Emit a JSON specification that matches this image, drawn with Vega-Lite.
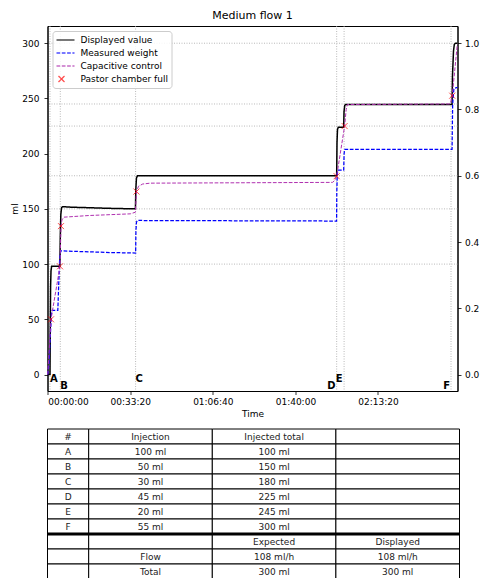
{
  "$schema": "https://vega.github.io/schema/vega-lite/v6.json",
  "padding": {"left": 9.5, "top": 9, "right": 0, "bottom": 0},
  "background": "white",
  "config": {
    "font": "DejaVu Sans",
    "view": {"stroke": "#000", "strokeWidth": 1},
    "axis": {
      "labelFont": "DejaVu Sans", "labelFontSize": 9, "labelColor": "#000",
      "titleFont": "DejaVu Sans", "titleFontSize": 9, "titleFontWeight": "normal", "titleColor": "#000",
      "tickColor": "#000", "domainColor": "#000", "tickSize": 3.5, "tickWidth": 0.8, "domainWidth": 1, "grid": false
    },
    "legend": {
      "labelFont": "DejaVu Sans", "labelFontSize": 9, "labelColor": "#000"
    }
  },
  "datasets": {
    "lines": [
      {"series": "Displayed value", "t": 0, "v": 0},
      {"series": "Displayed value", "t": 55, "v": 0},
      {"series": "Displayed value", "t": 62, "v": 40},
      {"series": "Displayed value", "t": 70, "v": 80},
      {"series": "Displayed value", "t": 80, "v": 94},
      {"series": "Displayed value", "t": 95, "v": 98},
      {"series": "Displayed value", "t": 295, "v": 98},
      {"series": "Displayed value", "t": 305, "v": 125},
      {"series": "Displayed value", "t": 318, "v": 145},
      {"series": "Displayed value", "t": 335, "v": 151},
      {"series": "Displayed value", "t": 360, "v": 152},
      {"series": "Displayed value", "t": 600, "v": 151.5},
      {"series": "Displayed value", "t": 1500, "v": 150.5},
      {"series": "Displayed value", "t": 2125, "v": 150},
      {"series": "Displayed value", "t": 2135, "v": 168},
      {"series": "Displayed value", "t": 2150, "v": 178},
      {"series": "Displayed value", "t": 2175, "v": 180},
      {"series": "Displayed value", "t": 7000, "v": 180},
      {"series": "Displayed value", "t": 7008, "v": 210},
      {"series": "Displayed value", "t": 7020, "v": 222},
      {"series": "Displayed value", "t": 7040, "v": 224},
      {"series": "Displayed value", "t": 7170, "v": 224},
      {"series": "Displayed value", "t": 7178, "v": 238},
      {"series": "Displayed value", "t": 7195, "v": 243.5},
      {"series": "Displayed value", "t": 7215, "v": 244.5},
      {"series": "Displayed value", "t": 9795, "v": 244.5},
      {"series": "Displayed value", "t": 9805, "v": 270},
      {"series": "Displayed value", "t": 9830, "v": 293},
      {"series": "Displayed value", "t": 9850, "v": 299},
      {"series": "Displayed value", "t": 9880, "v": 300},
      {"series": "Displayed value", "t": 9927, "v": 300},
      {"series": "Measured weight", "t": 0, "v": 0},
      {"series": "Measured weight", "t": 30, "v": 10},
      {"series": "Measured weight", "t": 90, "v": 55},
      {"series": "Measured weight", "t": 110, "v": 58},
      {"series": "Measured weight", "t": 245, "v": 58},
      {"series": "Measured weight", "t": 265, "v": 80},
      {"series": "Measured weight", "t": 290, "v": 105},
      {"series": "Measured weight", "t": 315, "v": 112},
      {"series": "Measured weight", "t": 700, "v": 111.5},
      {"series": "Measured weight", "t": 1500, "v": 110.5},
      {"series": "Measured weight", "t": 2130, "v": 110},
      {"series": "Measured weight", "t": 2137, "v": 130},
      {"series": "Measured weight", "t": 2150, "v": 138},
      {"series": "Measured weight", "t": 2170, "v": 139.5},
      {"series": "Measured weight", "t": 5000, "v": 139.2},
      {"series": "Measured weight", "t": 6998, "v": 139},
      {"series": "Measured weight", "t": 7003, "v": 165},
      {"series": "Measured weight", "t": 7015, "v": 182},
      {"series": "Measured weight", "t": 7030, "v": 185},
      {"series": "Measured weight", "t": 7170, "v": 185},
      {"series": "Measured weight", "t": 7180, "v": 200},
      {"series": "Measured weight", "t": 7195, "v": 204},
      {"series": "Measured weight", "t": 9795, "v": 204},
      {"series": "Measured weight", "t": 9810, "v": 245},
      {"series": "Measured weight", "t": 9840, "v": 259},
      {"series": "Measured weight", "t": 9927, "v": 260},
      {"series": "Capacitive control", "t": 0, "v": 0},
      {"series": "Capacitive control", "t": 80, "v": 50},
      {"series": "Capacitive control", "t": 298, "v": 98},
      {"series": "Capacitive control", "t": 322, "v": 134.4},
      {"series": "Capacitive control", "t": 345, "v": 140},
      {"series": "Capacitive control", "t": 390, "v": 142.5},
      {"series": "Capacitive control", "t": 1000, "v": 144},
      {"series": "Capacitive control", "t": 2000, "v": 145.5},
      {"series": "Capacitive control", "t": 2125, "v": 147},
      {"series": "Capacitive control", "t": 2150, "v": 165.7},
      {"series": "Capacitive control", "t": 2200, "v": 170.5},
      {"series": "Capacitive control", "t": 2300, "v": 172.5},
      {"series": "Capacitive control", "t": 2480, "v": 173.3},
      {"series": "Capacitive control", "t": 6900, "v": 174},
      {"series": "Capacitive control", "t": 6960, "v": 176},
      {"series": "Capacitive control", "t": 7000, "v": 179.6},
      {"series": "Capacitive control", "t": 7193, "v": 225},
      {"series": "Capacitive control", "t": 7230, "v": 240},
      {"series": "Capacitive control", "t": 7260, "v": 244.5},
      {"series": "Capacitive control", "t": 9740, "v": 245},
      {"series": "Capacitive control", "t": 9765, "v": 247},
      {"series": "Capacitive control", "t": 9799, "v": 252.5},
      {"series": "Capacitive control", "t": 9920, "v": 298},
      {"series": "Capacitive control", "t": 9927, "v": 299}
    ],
    "markers": [
      {"series": "Pastor chamber full", "t": 80, "v": 50},
      {"series": "Pastor chamber full", "t": 298, "v": 98},
      {"series": "Pastor chamber full", "t": 322, "v": 134.4},
      {"series": "Pastor chamber full", "t": 2150, "v": 165.7},
      {"series": "Pastor chamber full", "t": 7000, "v": 179.6},
      {"series": "Pastor chamber full", "t": 7193, "v": 225},
      {"series": "Pastor chamber full", "t": 9799, "v": 252.5}
    ],
    "events": [
      {"label": "A", "t": 55},
      {"label": "B", "t": 305},
      {"label": "C", "t": 2129},
      {"label": "D", "t": 7000},
      {"label": "E", "t": 7180},
      {"label": "F", "t": 9770}
    ],
    "totals": [
      {"v": 100}, {"v": 150}, {"v": 180}, {"v": 225}, {"v": 245}, {"v": 300}
    ],
    "cols": [
      {"col": 0, "start": 0, "end": 1, "mid": 0.5},
      {"col": 1, "start": 1, "end": 4, "mid": 2.5},
      {"col": 2, "start": 4, "end": 7, "mid": 5.5},
      {"col": 3, "start": 7, "end": 10, "mid": 8.5}
    ],
    "cells": [
      {"row": 0, "col": 0, "text": "#"}, {"row": 0, "col": 1, "text": "Injection"}, {"row": 0, "col": 2, "text": "Injected total"}, {"row": 0, "col": 3, "text": ""},
      {"row": 1, "col": 0, "text": "A"}, {"row": 1, "col": 1, "text": "100 ml"}, {"row": 1, "col": 2, "text": "100 ml"}, {"row": 1, "col": 3, "text": ""},
      {"row": 2, "col": 0, "text": "B"}, {"row": 2, "col": 1, "text": "50 ml"}, {"row": 2, "col": 2, "text": "150 ml"}, {"row": 2, "col": 3, "text": ""},
      {"row": 3, "col": 0, "text": "C"}, {"row": 3, "col": 1, "text": "30 ml"}, {"row": 3, "col": 2, "text": "180 ml"}, {"row": 3, "col": 3, "text": ""},
      {"row": 4, "col": 0, "text": "D"}, {"row": 4, "col": 1, "text": "45 ml"}, {"row": 4, "col": 2, "text": "225 ml"}, {"row": 4, "col": 3, "text": ""},
      {"row": 5, "col": 0, "text": "E"}, {"row": 5, "col": 1, "text": "20 ml"}, {"row": 5, "col": 2, "text": "245 ml"}, {"row": 5, "col": 3, "text": ""},
      {"row": 6, "col": 0, "text": "F"}, {"row": 6, "col": 1, "text": "55 ml"}, {"row": 6, "col": 2, "text": "300 ml"}, {"row": 6, "col": 3, "text": ""},
      {"row": 7, "col": 0, "text": ""}, {"row": 7, "col": 1, "text": ""}, {"row": 7, "col": 2, "text": "Expected"}, {"row": 7, "col": 3, "text": "Displayed"},
      {"row": 8, "col": 0, "text": ""}, {"row": 8, "col": 1, "text": "Flow"}, {"row": 8, "col": 2, "text": "108 ml/h"}, {"row": 8, "col": 3, "text": "108 ml/h"},
      {"row": 9, "col": 0, "text": ""}, {"row": 9, "col": 1, "text": "Total"}, {"row": 9, "col": 2, "text": "300 ml"}, {"row": 9, "col": 3, "text": "300 ml"}
    ]
  },
  "spacing": 9,
  "vconcat": [
    {
      "width": 410,
      "height": 365,
      "title": {"text": "Medium flow 1", "font": "DejaVu Sans", "fontSize": 11, "fontWeight": "normal", "color": "#000", "offset": 5},
      "resolve": {"scale": {"y": "independent"}},
      "layer": [
        {
          "layer": [
            {
              "data": {"name": "events"},
              "mark": {"type": "rule", "color": "#a8a8a8", "strokeWidth": 0.8, "strokeDash": [1, 1.5]},
              "encoding": {
                "x": {"field": "t", "type": "quantitative", "scale": {"domain": [-5, 9927], "nice": false, "zero": false},
                  "axis": {"title": "Time", "values": [0, 2000, 4000, 6000, 8000], "labelExpr": "utcFormat(datum.value * 1000, '%H:%M:%S')", "labelPadding": 3, "titlePadding": 3}}
              }
            },
            {
              "data": {"name": "totals"},
              "mark": {"type": "rule", "color": "#a8a8a8", "strokeWidth": 0.8, "strokeDash": [1, 1.5]},
              "encoding": {
                "y": {"field": "v", "type": "quantitative", "scale": {"domain": [-14.9, 315.6], "nice": false, "zero": false},
                  "axis": {"title": "ml", "values": [0, 50, 100, 150, 200, 250, 300], "labelPadding": 5, "titlePadding": 2}}
              }
            },
            {
              "data": {"name": "lines"},
              "mark": {"type": "line", "interpolate": "linear"},
              "encoding": {
                "x": {"field": "t", "type": "quantitative"},
                "y": {"field": "v", "type": "quantitative"},
                "detail": {"field": "series"},
                "color": {"field": "series", "type": "nominal",
                  "scale": {"domain": ["Displayed value", "Measured weight", "Capacitive control", "Pastor chamber full"], "range": ["#000000", "#0000ff", "#b030b0", "#ff0000"]},
                  "legend": {"title": null, "orient": "top-left", "offset": 5, "padding": 3, "rowPadding": 2, "labelOffset": 13, "symbolSize": 100, "symbolStrokeWidth": 1.3, "symbolOpacity": 1,
                    "strokeColor": "#cccccc", "fillColor": "rgba(255,255,255,0.85)", "cornerRadius": 3, "symbolFillColor": "transparent"}},
                "strokeDash": {"field": "series", "type": "nominal",
                  "scale": {"domain": ["Displayed value", "Measured weight", "Capacitive control", "Pastor chamber full"], "range": [[1, 0], [3.7, 1.6], [3.7, 1.6], [1, 0]]}},
                "strokeWidth": {"field": "series", "type": "nominal",
                  "scale": {"domain": ["Displayed value", "Measured weight", "Capacitive control"], "range": [1.5, 1, 1]}, "legend": null}
              }
            },
            {
              "data": {"name": "markers"},
              "mark": {"type": "point", "filled": false, "size": 100, "strokeWidth": 1},
              "encoding": {
                "x": {"field": "t", "type": "quantitative"},
                "y": {"field": "v", "type": "quantitative"},
                "color": {"field": "series", "type": "nominal"},
                "shape": {"field": "series", "type": "nominal",
                  "scale": {"domain": ["Displayed value", "Measured weight", "Capacitive control", "Pastor chamber full"],
                    "range": ["M-1,0L2.6,0", "M-1,0L2.6,0", "M-1,0L2.6,0", "M-0.6,-0.6L0.6,0.6M-0.6,0.6L0.6,-0.6"]}}
              }
            },
            {
              "data": {"name": "events"},
              "transform": [{"filter": "datum.label == 'A' || datum.label == 'C'"}],
              "mark": {"type": "text", "align": "left", "baseline": "alphabetic", "fontWeight": "bold", "fontSize": 10, "color": "#000"},
              "encoding": {"x": {"field": "t", "type": "quantitative"}, "y": {"datum": -7.2}, "text": {"field": "label"}}
            },
            {
              "data": {"name": "events"},
              "transform": [{"filter": "datum.label == 'B'"}],
              "mark": {"type": "text", "align": "left", "baseline": "alphabetic", "fontWeight": "bold", "fontSize": 10, "color": "#000"},
              "encoding": {"x": {"field": "t", "type": "quantitative"}, "y": {"datum": -13.3}, "text": {"field": "label"}}
            },
            {
              "data": {"name": "events"},
              "transform": [{"filter": "datum.label == 'E'"}],
              "mark": {"type": "text", "align": "right", "dx": -1.5, "baseline": "alphabetic", "fontWeight": "bold", "fontSize": 10, "color": "#000"},
              "encoding": {"x": {"field": "t", "type": "quantitative"}, "y": {"datum": -6.5}, "text": {"field": "label"}}
            },
            {
              "data": {"name": "events"},
              "transform": [{"filter": "datum.label == 'D' || datum.label == 'F'"}],
              "mark": {"type": "text", "align": "right", "dx": -1, "baseline": "alphabetic", "fontWeight": "bold", "fontSize": 10, "color": "#000"},
              "encoding": {"x": {"field": "t", "type": "quantitative"}, "y": {"datum": -13.3}, "text": {"field": "label"}}
            }
          ]
        },
        {
          "data": {"values": [{"f": 0}]},
          "mark": {"type": "point", "opacity": 0},
          "encoding": {
            "y": {"field": "f", "type": "quantitative", "scale": {"domain": [-0.0497, 1.052], "nice": false, "zero": false},
              "axis": {"orient": "right", "values": [0, 0.2, 0.4, 0.6, 0.8, 1.0], "format": ".1f", "title": null, "labelPadding": 3.5}}
          }
        }
      ]
    },
    {
      "width": 412,
      "height": 150,
      "view": {"stroke": null},
      "data": {"name": "cells"},
      "transform": [{"lookup": "col", "from": {"data": {"name": "cols"}, "key": "col", "fields": ["start", "end", "mid"]}}],
      "encoding": {
        "y": {"field": "row", "type": "ordinal", "axis": null, "scale": {"paddingInner": 0, "paddingOuter": 0}}
      },
      "layer": [
        {
          "mark": {"type": "rect", "fill": "white", "stroke": "#000", "strokeWidth": 1},
          "encoding": {
            "x": {"field": "start", "type": "quantitative", "scale": {"domain": [0, 10], "nice": false, "zero": false}, "axis": null},
            "x2": {"field": "end"}
          }
        },
        {
          "transform": [{"filter": "datum.row == 6"}],
          "mark": {"type": "rule", "color": "#000", "strokeWidth": 3},
          "encoding": {
            "x": {"field": "start", "type": "quantitative"},
            "x2": {"field": "end"},
            "y": {"field": "row", "type": "ordinal", "bandPosition": 1}
          }
        },
        {
          "mark": {"type": "text", "fontSize": 9, "font": "DejaVu Sans", "color": "#222", "baseline": "middle"},
          "encoding": {
            "x": {"field": "mid", "type": "quantitative"},
            "text": {"field": "text"}
          }
        }
      ]
    }
  ]
}
